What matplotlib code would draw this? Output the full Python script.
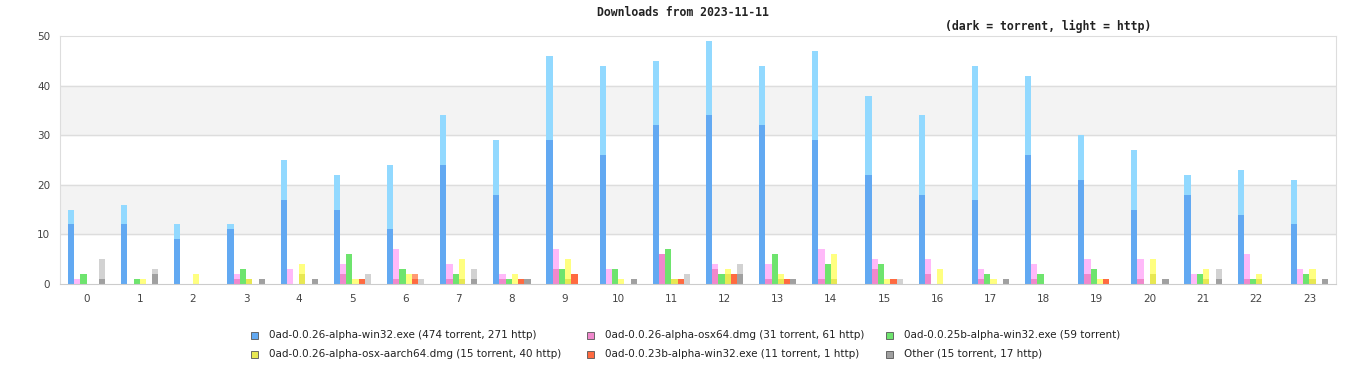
import numpy as np
import matplotlib.pyplot as plt
from matplotlib.patches import Rectangle

hours = list(range(24))

# torrent / http counts per hour for each file
win32_t = [12, 12, 9, 11, 17, 15, 11, 24, 18, 29, 26, 32, 34, 32, 29, 22, 18, 17, 26, 21, 15, 18, 14, 12]
win32_h = [3, 4, 3, 1, 8, 7, 13, 10, 11, 17, 18, 13, 15, 12, 18, 16, 16, 27, 16, 9, 12, 4, 9, 9]
osx64_t = [0, 0, 0, 1, 0, 2, 1, 1, 1, 3, 0, 6, 3, 1, 1, 3, 2, 1, 1, 2, 1, 0, 1, 0]
osx64_h = [1, 0, 0, 1, 3, 2, 6, 3, 1, 4, 3, 0, 1, 3, 6, 2, 3, 2, 3, 3, 4, 2, 5, 3]
w25b_t = [2, 1, 0, 3, 0, 6, 3, 2, 1, 3, 3, 7, 2, 6, 4, 4, 0, 2, 2, 3, 0, 2, 1, 2]
w25b_h = [0] * 24
arm_t = [0, 0, 0, 1, 2, 0, 0, 1, 0, 1, 0, 1, 2, 1, 1, 0, 0, 0, 0, 0, 2, 1, 1, 1]
arm_h = [0, 1, 2, 0, 2, 1, 2, 4, 2, 4, 1, 0, 1, 1, 5, 1, 3, 1, 0, 1, 3, 2, 1, 2]
w23b_t = [0, 0, 0, 0, 0, 1, 1, 0, 1, 2, 0, 1, 2, 1, 0, 1, 0, 0, 0, 1, 0, 0, 0, 0]
w23b_h = [0, 0, 0, 0, 0, 0, 1, 0, 0, 0, 0, 0, 0, 0, 0, 0, 0, 0, 0, 0, 0, 0, 0, 0]
other_t = [1, 2, 0, 1, 1, 0, 0, 1, 1, 0, 1, 0, 2, 1, 0, 0, 0, 1, 0, 0, 1, 1, 0, 1]
other_h = [4, 1, 0, 0, 0, 2, 1, 2, 0, 0, 0, 2, 2, 0, 0, 1, 0, 0, 0, 0, 0, 2, 0, 0]

labels = [
    "0ad-0.0.26-alpha-win32.exe (474 torrent, 271 http)",
    "0ad-0.0.26-alpha-osx64.dmg (31 torrent, 61 http)",
    "0ad-0.0.25b-alpha-win32.exe (59 torrent)",
    "0ad-0.0.26-alpha-osx-aarch64.dmg (15 torrent, 40 http)",
    "0ad-0.0.23b-alpha-win32.exe (11 torrent, 1 http)",
    "Other (15 torrent, 17 http)",
]
series = [(win32_t, win32_h), (osx64_t, osx64_h), (w25b_t, w25b_h),
          (arm_t, arm_h), (w23b_t, w23b_h), (other_t, other_h)]
dark = ["#62a9f2", "#f088cc", "#6ee46e", "#e8e852", "#ff6a40", "#a0a0a0"]
light = ["#92d9ff", "#ffb9f9", "#6ee46e", "#ffff80", "#ff9a72", "#d2d2d2"]

fig = plt.figure(figsize=(13.66, 3.8), dpi=100)
ax = fig.add_axes([60 / 1366, 1 - 284 / 380, 1276 / 1366, 248 / 380])

for lo in (10, 30):
    ax.axhspan(lo, lo + 10, color="#f3f3f3", zorder=0)
for y in range(10, 50, 10):
    ax.axhline(y, color="#dddddd", lw=1, zorder=1)

x = np.array(hours)
w = 0.117
for k, (t, h) in enumerate(series):
    pos = x + (k - 2.5) * w
    ax.bar(pos, t, width=w, color=dark[k], zorder=2)
    ax.bar(pos, h, width=w, bottom=t, color=light[k], zorder=2)

ax.set_xlim(-0.5, 23.5)
ax.set_ylim(0, 50)
ax.set_xticks(hours)
ax.set_yticks(range(0, 51, 10))
ax.tick_params(length=0, labelsize=7.5, labelcolor="#444444", pad=7)
for s in ax.spines.values():
    s.set_color("#dddddd")
ax.spines["bottom"].set_color("#cccccc")

fig.text(683 / 1366, 1 - 13 / 380, "Downloads from 2023-11-11", ha="center", va="center",
         fontsize=8.3, fontweight="bold", family="DejaVu Sans Mono", color="#222222")
fig.text(1048 / 1366, 1 - 26 / 380, "(dark = torrent, light = http)", ha="center", va="center",
         fontsize=8.3, fontweight="bold", family="DejaVu Sans Mono", color="#222222")

col_x = [251, 587, 886]
row_y = [335, 354]
for i, lab in enumerate(labels):
    cx = col_x[i % 3]
    cy = row_y[i // 3]
    fig.patches.append(Rectangle((cx / 1366, 1 - (cy + 3.5) / 380), 7 / 1366, 7 / 380,
                                 transform=fig.transFigure, facecolor=dark[i],
                                 edgecolor="#555555", lw=0.6))
    fig.text((cx + 18) / 1366, 1 - cy / 380, lab, ha="left", va="center",
             fontsize=7.5, family="DejaVu Sans", color="#222222")

fig.savefig("out.png", dpi=100)
